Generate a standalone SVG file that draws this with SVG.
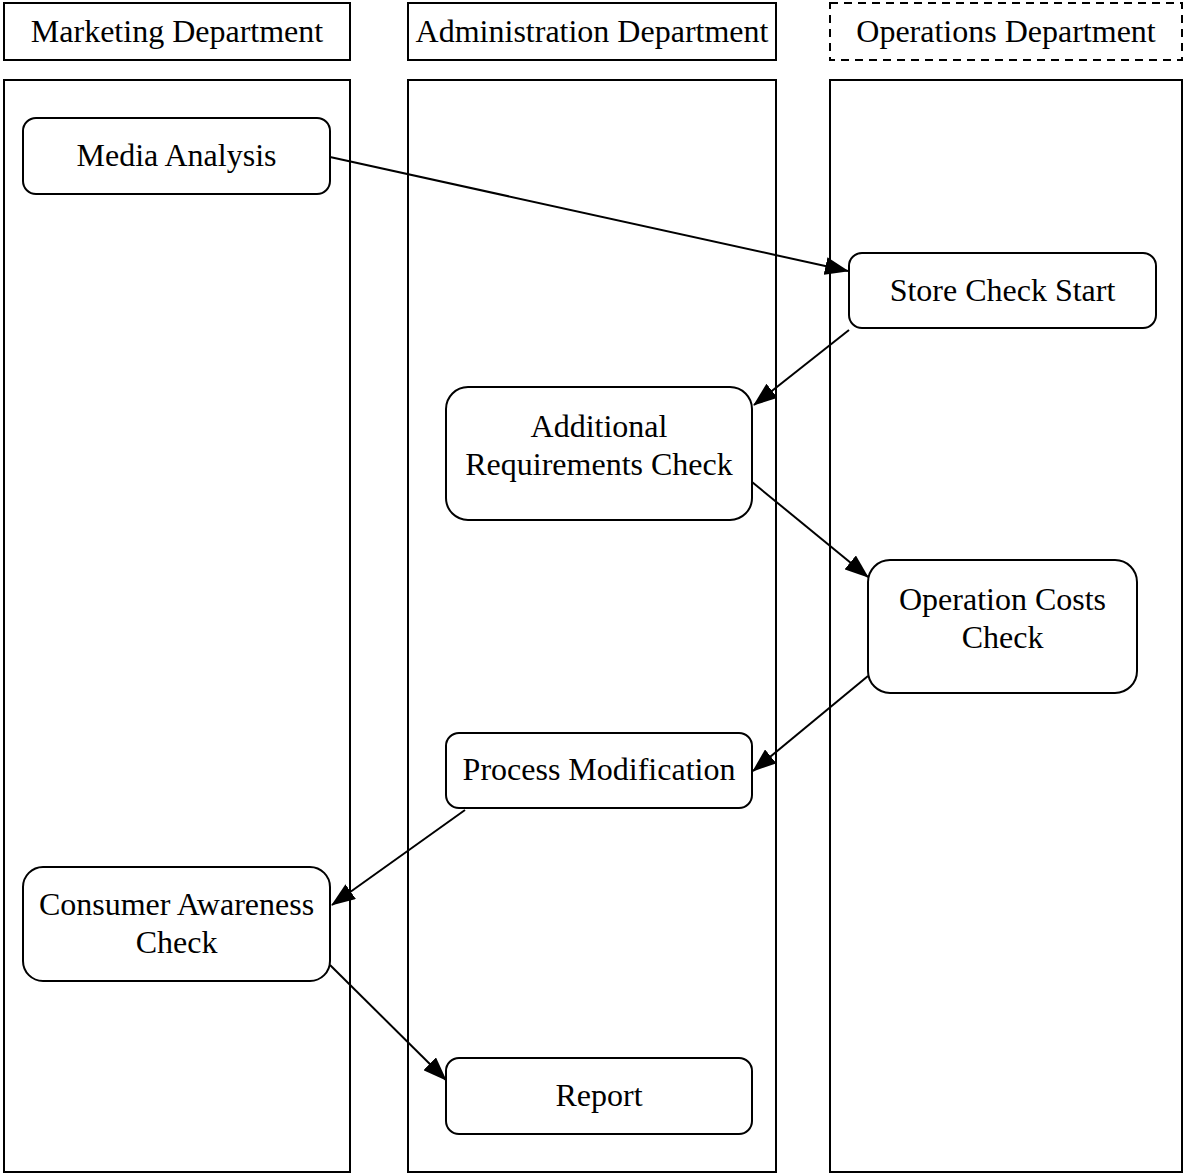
<svg xmlns="http://www.w3.org/2000/svg" width="1185" height="1175" viewBox="0 0 1185 1175">
  <style>
    .lane { fill: #ffffff; stroke: #000000; stroke-width: 2; }
    .head { fill: #ffffff; stroke: #000000; stroke-width: 2; }
    .dashed { stroke-dasharray: 8 6; }
    .node rect { fill: #ffffff; stroke: #000000; stroke-width: 2; }
    text { font-family: "Liberation Serif", "Times New Roman", serif; font-size: 32px; fill: #000000; text-anchor: middle; }
    .edge { fill: none; stroke: #000000; stroke-width: 2; marker-end: url(#arrow); }
  </style>
  <defs>
    <marker id="arrow" markerWidth="24" markerHeight="18" refX="23" refY="9" orient="auto" markerUnits="userSpaceOnUse">
      <path d="M0,0 L24,9 L0,18 Z" fill="#000000"/>
    </marker>
  </defs>
  <rect width="1185" height="1175" fill="#ffffff"/>

  <!-- lane headers -->
  <g id="header-marketing">
    <rect class="head" x="4" y="3" width="346" height="57"/>
    <text x="177" y="42">Marketing Department</text>
  </g>
  <g id="header-administration">
    <rect class="head" x="408" y="3" width="368" height="57"/>
    <text x="592" y="42">Administration Department</text>
  </g>
  <g id="header-operations">
    <rect class="head dashed" x="830" y="3" width="352" height="57"/>
    <text x="1006" y="42">Operations Department</text>
  </g>

  <!-- swimlanes -->
  <g id="lanes">
    <rect class="lane" x="4" y="80" width="346" height="1092"/>
    <rect class="lane" x="408" y="80" width="368" height="1092"/>
    <rect class="lane" x="830" y="80" width="352" height="1092"/>
  </g>

  <!-- connectors -->
  <g id="connectors">
    <line class="edge" x1="330" y1="157" x2="848" y2="271"/>
    <line class="edge" x1="849" y1="330" x2="754" y2="405"/>
    <line class="edge" x1="752" y1="482" x2="868" y2="577"/>
    <line class="edge" x1="868" y1="676" x2="753" y2="771"/>
    <line class="edge" x1="465" y1="810" x2="332" y2="905"/>
    <line class="edge" x1="330" y1="965" x2="446" y2="1080"/>
  </g>

  <!-- nodes -->
  <g id="media-analysis" class="node">
    <rect x="23" y="118" width="307" height="76" rx="13"/>
    <text x="176.5" y="166">Media Analysis</text>
  </g>
  <g id="store-check-start" class="node">
    <rect x="849" y="253" width="307" height="75" rx="13"/>
    <text x="1002.5" y="301">Store Check Start</text>
  </g>
  <g id="additional-requirements-check" class="node">
    <rect x="446" y="387" width="306" height="133" rx="22"/>
    <text x="599" y="437">Additional</text>
    <text x="599" y="475">Requirements Check</text>
  </g>
  <g id="operation-costs-check" class="node">
    <rect x="868" y="560" width="269" height="133" rx="22"/>
    <text x="1002.5" y="610">Operation Costs</text>
    <text x="1002.5" y="648">Check</text>
  </g>
  <g id="process-modification" class="node">
    <rect x="446" y="733" width="306" height="75" rx="13"/>
    <text x="599" y="780">Process Modification</text>
  </g>
  <g id="consumer-awareness-check" class="node">
    <rect x="23" y="867" width="307" height="114" rx="20"/>
    <text x="176.5" y="915">Consumer Awareness</text>
    <text x="176.5" y="953">Check</text>
  </g>
  <g id="report" class="node">
    <rect x="446" y="1058" width="306" height="76" rx="13"/>
    <text x="599" y="1106">Report</text>
  </g>
</svg>
